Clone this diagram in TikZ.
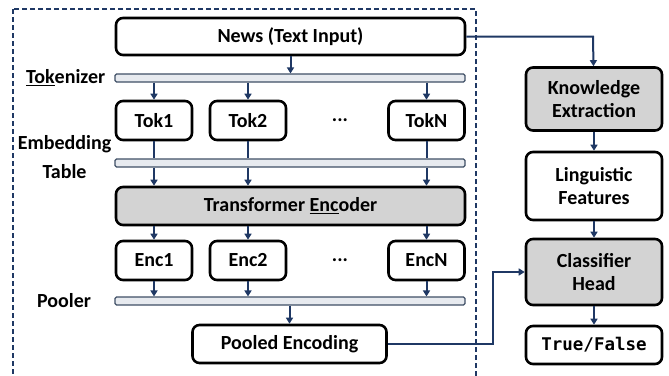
\documentclass[tikz,border=0pt]{standalone}
\usepackage{fontspec}
\setmainfont{Carlito}
\newfontfamily\codefont{DejaVu Sans Mono}
\usepackage{xcolor}
\usepackage{tikz}
\usetikzlibrary{arrows.meta, positioning, calc}

\definecolor{navy}{HTML}{1F3864}
\definecolor{barfill}{HTML}{E7EAEF}
\definecolor{barline}{HTML}{3F4F66}
\definecolor{boxgray}{HTML}{D3D3D3}

\tikzset{
  blk/.style={draw=black, line width=2.6pt, rounded corners=7pt, fill=white,
    font=\fontsize{20}{23}\selectfont\bfseries, align=center, inner sep=0pt},
  gblk/.style={blk, fill=boxgray},
  bar/.style={draw=barline, line width=1.1pt, fill=barfill, rounded corners=1.5pt,
    minimum width=350pt, minimum height=8pt, inner sep=0pt},
  lbl/.style={font=\fontsize{20}{23}\selectfont\bfseries, align=center, inner sep=0pt},
  arr/.style={draw=navy, line width=2pt, -{Triangle[length=6pt,width=7pt]}},
  ln/.style={draw=navy, line width=2pt}
}

\begin{document}
\begin{tikzpicture}[x=1pt,y=-1pt]
      \useasboundingbox (0,0) rectangle (669,375);
      \def\ytok{120.5}
      \def\yenc{260.5}

      % encoder part
      \draw[navy, line width=1.4pt, dash pattern=on 5pt off 3pt] (13,9) rectangle (476,377);

      \node[blk, minimum width=349pt, minimum height=37pt] (news) at (290.5,36.5) {News (Text Input)};
      \node[bar] (tokbar) at (290,78) {};
      \node[bar] (embbar) at (290,163) {};
      \node[bar] (poolbar) at (290,301) {};

      \node[blk, minimum width=76pt, minimum height=39pt] (tok1) at (154,\ytok) {Tok1};
      \node[blk, minimum width=76pt, minimum height=39pt] (tok2) at (248,\ytok) {Tok2};
      \node[lbl] (tokdots) at (340,\ytok) {...};
      \node[blk, minimum width=76pt, minimum height=39pt] (tokN) at (426.5,\ytok) {TokN};

      \node[gblk, minimum width=349pt, minimum height=38pt] (encoder) at (290.5,206) {Transformer \underline{Enc}oder};

      \node[blk, minimum width=76pt, minimum height=39pt] (enc1) at (154,\yenc) {Enc1};
      \node[blk, minimum width=76pt, minimum height=39pt] (enc2) at (248,\yenc) {Enc2};
      \node[lbl] (encdots) at (340,\yenc) {...};
      \node[blk, minimum width=76pt, minimum height=39pt] (encN) at (426.5,\yenc) {EncN};

      \node[blk, minimum width=194pt, minimum height=38pt] (pooled) at (289.5,344) {Pooled Encoding};

      \node[lbl, anchor=west] (toklbl) at (26,78) {\underline{Tok}enizer};
      \node[lbl] (emblbl) at (64.5,157.5) {Embedding\\[6pt]Table};
      \node[lbl] (poollbl) at (64,301) {Pooler};

      % right column
      \node[gblk, minimum width=136pt, minimum height=63pt] (know) at (594,99) {Knowledge\\Extraction};
      \node[blk, minimum width=136pt, minimum height=68pt] (ling) at (594,186) {Linguistic\\Features};
      \node[gblk, minimum width=136pt, minimum height=66pt] (cls) at (594,272) {Classifier\\Head};
      \node[blk, minimum width=136pt, minimum height=38pt, font=\fontsize{17.5}{20}\selectfont\codefont\bfseries] (tf) at (594,345) {True/False};

      % connectors
      \draw[arr] (news) -- (tokbar.north -| news);
      \foreach \t in {tok1,tok2,tokN} {
        \draw[arr] (tokbar.south -| \t) -- (\t);
        \draw[ln] (\t) -- (embbar.north -| \t);
        \draw[arr] (embbar.south -| \t) -- (encoder.north -| \t);
      }
      \foreach \e in {enc1,enc2,encN} {
        \draw[arr] (encoder.south -| \e) -- (\e);
        \draw[arr] (\e) -- (poolbar.north -| \e);
      }
      \draw[arr] (poolbar.south -| pooled) -- (pooled);

      \coordinate (newsturn) at (593,36.5);
      \coordinate (poolturn) at (493,344);
      \draw[arr] (news.east) -- (newsturn) -- (know);
      \draw[arr] (pooled.east) -- (poolturn) -- (poolturn |- cls.west) -- (cls.west);
      \draw[arr] (know) -- (ling);
      \draw[arr] (ling) -- (cls);
      \draw[arr] (cls) -- (tf);
    \end{tikzpicture}
\end{document}
